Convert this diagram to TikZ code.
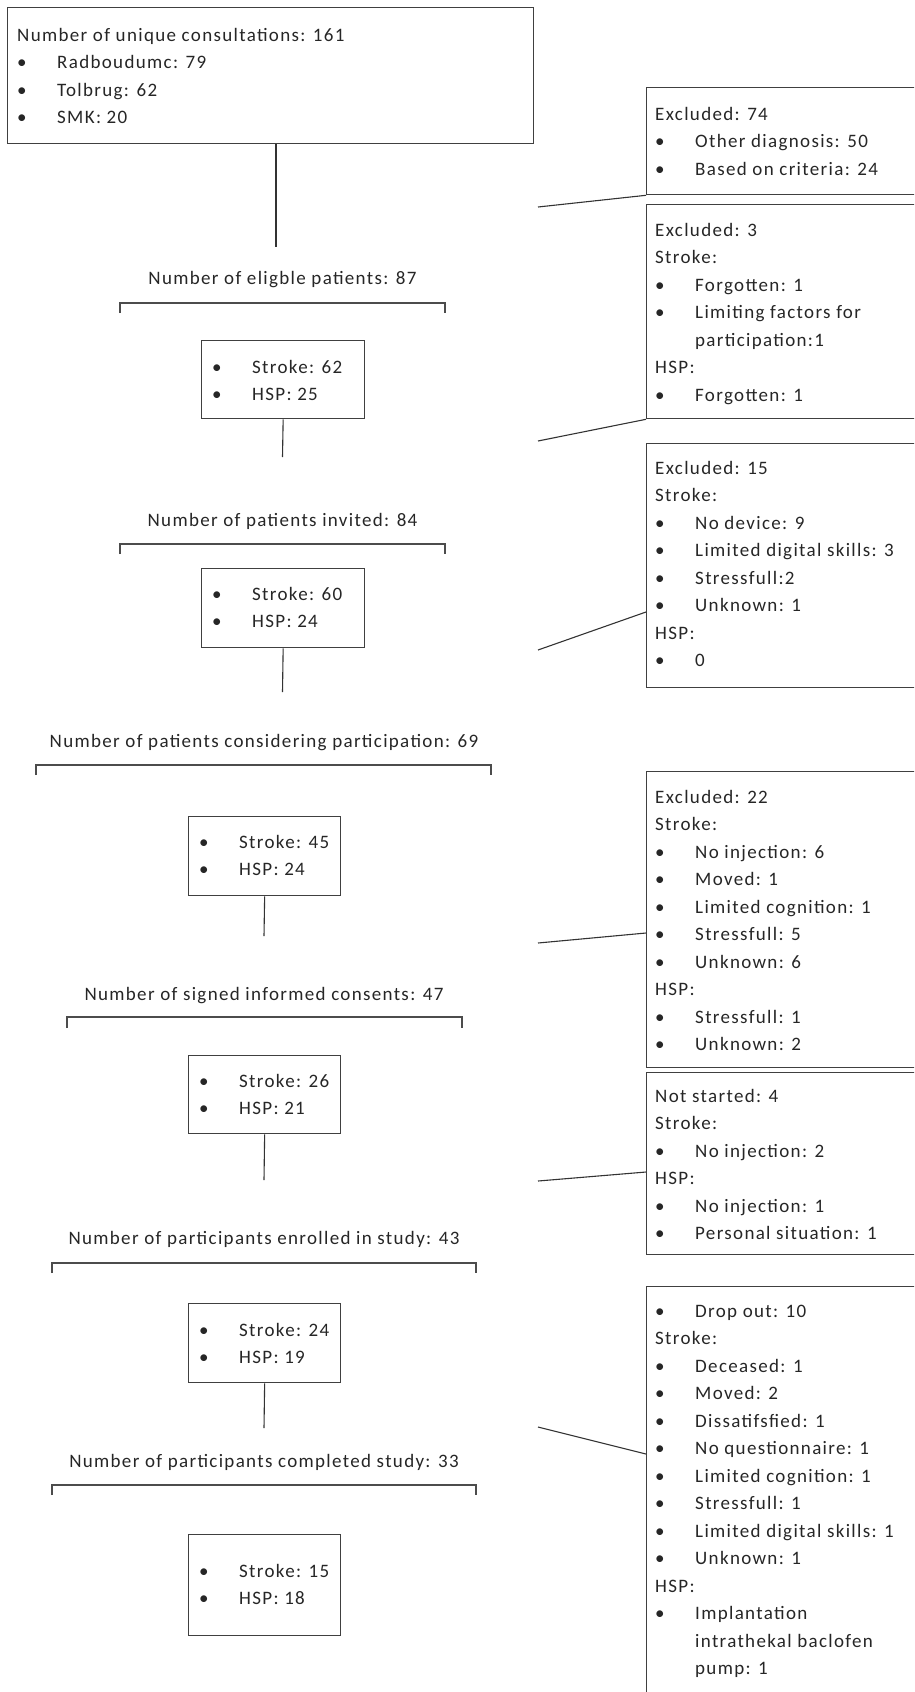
\documentclass[tikz,border=0pt]{standalone}
\usepackage{fontspec}
\setmainfont{Carlito}[LetterSpace=7]
\usetikzlibrary{calc}
\newcommand\bi[1]{\makebox[40pt][l]{•}#1}
\newcommand\ind[1]{\hspace*{40pt}#1}
\newcommand\lines[1]{\parbox[t]{400pt}{\raggedright\fontsize{19}{27.5}\selectfont #1}}
\begin{document}
\begin{tikzpicture}[x=1pt,y=-1pt,
  box/.style={draw=black!75, line width=1.3pt, anchor=north west, inner sep=0pt},
  txt/.style={anchor=base west, inner sep=0pt, text=black!85},
  lbl/.style={anchor=base, inner sep=0pt, text=black!85, font=\fontsize{19}{22}\selectfont},
  conn/.style={draw=black!80, line width=1.1pt},
  brk/.style={draw=black!70, line width=1.4pt}]
\useasboundingbox (0,0) rectangle (914,1692);
\clip (0,0) rectangle (914,1692);
% top box
\node[box, minimum width=526pt, minimum height=136pt] (top) at (7,7) {};
\node[txt] (topt) at (17,41) {\lines{Number of unique consultations: 161\\ \bi{Radboudumc: 79}\\ \bi{Tolbrug: 62}\\ \bi{SMK: 20}}};
\coordinate (c0) at (276,247);
\draw[conn] (top.south -| c0) -- (c0);
% stage 1
\node[lbl] (l1) at (282.5,284) {Number of eligble patients: 87};
\draw[brk] (120,313) -- (120,303) -- (445,303) -- (445,313);
\node[box, minimum width=163pt, minimum height=78pt] (s1) at (201,340) {};
\node[txt] (s1t) at (212,373) {\lines{\bi{Stroke: 62}\\ \bi{HSP: 25}}};
\coordinate (c1) at (282.5,457);
\draw[conn] (s1.south) -- (c1);
% stage 2
\node[lbl] (l2) at (282.5,526) {Number of patients invited: 84};
\draw[brk] (120,554) -- (120,544) -- (445,544) -- (445,554);
\node[box, minimum width=163pt, minimum height=79pt] (s2) at (201,568) {};
\node[txt] (s2t) at (212,600) {\lines{\bi{Stroke: 60}\\ \bi{HSP: 24}}};
\coordinate (c2) at (282.5,692);
\draw[conn] (s2.south) -- (c2);
% stage 3
\node[lbl] (l3) at (264,747) {Number of patients considering participation: 69};
\draw[brk] (36,775) -- (36,765) -- (491,765) -- (491,775);
\node[box, minimum width=152pt, minimum height=79pt] (s3) at (188,816) {};
\node[txt] (s3t) at (199,848) {\lines{\bi{Stroke: 45}\\ \bi{HSP: 24}}};
\coordinate (c3) at (264,936);
\draw[conn] (s3.south) -- (c3);
% stage 4
\node[lbl] (l4) at (264,1000) {Number of signed informed consents: 47};
\draw[brk] (67,1028) -- (67,1017) -- (462,1017) -- (462,1028);
\node[box, minimum width=152pt, minimum height=78pt] (s4) at (188,1055) {};
\node[txt] (s4t) at (199,1087) {\lines{\bi{Stroke: 26}\\ \bi{HSP: 21}}};
\coordinate (c4) at (264,1180);
\draw[conn] (s4.south) -- (c4);
% stage 5
\node[lbl] (l5) at (264,1244) {Number of participants enrolled in study: 43};
\draw[brk] (52,1273) -- (52,1263) -- (476,1263) -- (476,1273);
\node[box, minimum width=152pt, minimum height=79pt] (s5) at (188,1303) {};
\node[txt] (s5t) at (199,1336) {\lines{\bi{Stroke: 24}\\ \bi{HSP: 19}}};
\coordinate (c5) at (264,1428);
\draw[conn] (s5.south) -- (c5);
% stage 6
\node[lbl] (l6) at (264,1467) {Number of participants completed study: 33};
\draw[brk] (52,1495) -- (52,1485) -- (476,1485) -- (476,1495);
\node[box, minimum width=152pt, minimum height=101pt] (s6) at (188,1534) {};
\node[txt] (s6t) at (199,1577) {\lines{\bi{Stroke: 15}\\ \bi{HSP: 18}}};
% right boxes
\node[box, minimum width=300pt, minimum height=107pt] (A) at (646,87) {};
\node[txt] (At) at (655,120) {\lines{Excluded: 74\\ \bi{Other diagnosis: 50}\\ \bi{Based on criteria: 24}}};
\node[box, minimum width=300pt, minimum height=214pt] (B) at (646,204) {};
\node[txt] (Bt) at (655,236) {\lines{Excluded: 3\\ Stroke:\\ \bi{Forgotten: 1}\\ \bi{Limiting factors for}\\ \ind{participation:1}\\ HSP:\\ \bi{Forgotten: 1}}};
\node[box, minimum width=300pt, minimum height=244pt] (C) at (646,443) {};
\node[txt] (Ct) at (655,474) {\lines{Excluded: 15\\ Stroke:\\ \bi{No device: 9}\\ \bi{Limited digital skills: 3}\\ \bi{Stressfull:2}\\ \bi{Unknown: 1}\\ HSP:\\ \bi{0}}};
\node[box, minimum width=300pt, minimum height=296pt] (D) at (646,771) {};
\node[txt] (Dt) at (655,803) {\lines{Excluded: 22\\ Stroke:\\ \bi{No injection: 6}\\ \bi{Moved: 1}\\ \bi{Limited cognition: 1}\\ \bi{Stressfull: 5}\\ \bi{Unknown: 6}\\ HSP:\\ \bi{Stressfull: 1}\\ \bi{Unknown: 2}}};
\node[box, minimum width=300pt, minimum height=182pt] (E) at (646,1072) {};
\node[txt] (Et) at (655,1102) {\lines{Not started: 4\\ Stroke:\\ \bi{No injection: 2}\\ HSP:\\ \bi{No injection: 1}\\ \bi{Personal situation: 1}}};
\node[box, minimum width=300pt, minimum height=500pt] (F) at (646,1286) {};
\node[txt] (Ft) at (655,1317) {\lines{\bi{Drop out: 10}\\ Stroke:\\ \bi{Deceased: 1}\\ \bi{Moved: 2}\\ \bi{Dissatifsfied: 1}\\ \bi{No questionnaire: 1}\\ \bi{Limited cognition: 1}\\ \bi{Stressfull: 1}\\ \bi{Limited digital skills: 1}\\ \bi{Unknown: 1}\\ HSP:\\ \bi{Implantation}\\ \ind{intrathekal baclofen}\\ \ind{pump: 1}}};
% diagonal connectors
\coordinate (d1) at (538,207);
\draw[conn] (d1) -- (A.south west);
\coordinate (d2) at (538,441);
\draw[conn] (d2) -- (B.south west);
\coordinate (d3) at (538,650);
\draw[conn] (d3) -- ([yshift=-169pt]C.north west);
\coordinate (d4) at (538,943);
\draw[conn] (d4) -- ([yshift=-162pt]D.north west);
\coordinate (d5) at (538,1181);
\draw[conn] (d5) -- ([yshift=-100pt]E.north west);
\coordinate (d6) at (538,1427);
\draw[conn] (d6) -- ([yshift=-168pt]F.north west);
\end{tikzpicture}
\end{document}
